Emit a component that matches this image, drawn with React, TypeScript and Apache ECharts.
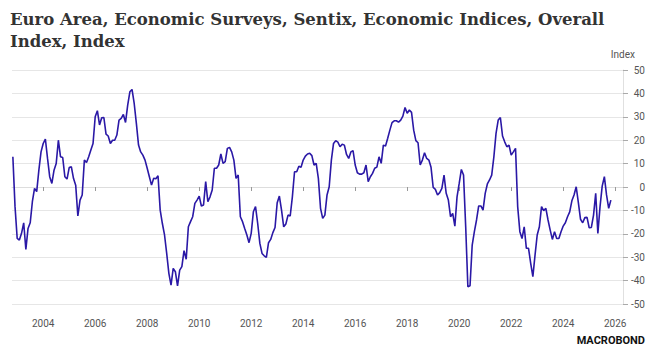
import React, { useEffect, useRef } from "react";
import * as echarts from "echarts";

// Monthly values, Oct 2002 – Oct 2025
const values2002to2007 = [12.9, -8.4, -22, -22.7, -19.8, -15.3, -26.7, -17.7, -15.3, -6.3, -0.6, -2, 7.2, 15, 18.6, 20.5, 12.2, 4.4, 1.5, 7.2, 10, 20, 12.9, 12.6, 4.4, 3.4, 8.3, 8.6, 3.6, 0.8, -12.4, -5.6, -3.4, 11.5, 10.5, 12.9, 15.8, 18.6, 30, 32.6, 26.5, 29.6, 29.7, 22.6, 21.8, 18.6, 20, 20, 22.2, 28.6, 29.3, 31, 27.6, 35, 40.7, 41.7];
const values2007to2012 = [35.7, 27.2, 17.9, 15, 13.6, 11.5, 8, 4.4, 0.8, 3.7, 3.5, 4.8, -9.9, -15.6, -20.5, -28.4, -36.9, -41.9, -34.8, -36.2, -42.3, -35.5, -34, -27.2, -30.9, -17, -14.8, -12.7, -7, -5.6, -3.9, -8.1, -7.7, 2.3, -6.3, -4.2, -1.3, 8, 8, 9.4, 14.1, 10.1, 10.8, 16.5, 16.9, 15, 11.5, 3.7, 5.1, -12.7, -14.8, -17.7, -20.5, -23.8, -19.8, -10.6];
const values2012to2016 = [-8.4, -15.6, -24.1, -28.4, -29.4, -30.1, -23.8, -22.4, -19.5, -17.3, -6.7, -3.9, -9.9, -17, -15.8, -12, -12.4, -4.2, 6.5, 6.5, 8.9, 8.4, 11.5, 13.2, 14.1, 14.4, 13.4, 9.4, 10.1, 3.7, -9.1, -13.4, -12, -3.4, 0.1, 11.5, 18.6, 19.8, 19.2, 17.2, 18.3, 17.9, 13.9, 12.2, 15, 15.5, 9.4, 6.1, 5.5, 5.5, 6.1, 9.4, 2.3, 4.4, 5.8, 8];
const values2016to2021 = [8.5, 12.9, 10.1, 17.9, 17.5, 20.8, 24.3, 27.5, 28.3, 28.3, 27.7, 28.6, 30.3, 34, 31.5, 32.9, 31.9, 24.3, 19.8, 18.9, 9.4, 11.5, 14.6, 12.2, 11.5, 8.4, -0.2, -1, -3.4, -2.4, -0.6, 5.1, -2.7, -5.6, -12.7, -11.3, -16.7, -4.2, 1.5, 7.5, 5.1, -17, -42.6, -42.2, -24.8, -19.1, -14.1, -8.1, -8.1, -9.9, -2.7, 1.3, 3, 5.1, 12.9, 22.9];
const values2021to2025 = [28.6, 29.7, 21.8, 19.3, 17.2, 17.9, 13.6, 15, 16.5, -8.5, -19.1, -22, -17, -26.2, -26.2, -32.6, -38.3, -29.1, -20.5, -17, -8.4, -10.1, -9.1, -14.1, -18.4, -22.4, -19.1, -22, -22, -19.1, -16.7, -15.3, -12.7, -10.6, -5.9, -3.4, 0.1, -6.7, -13.8, -15.3, -13.1, -13, -17.4, -17.3, -12, -2.7, -19.8, -8.4, 0.4, 4.4, -3.4, -9.1, -5.6];

const startYear = 2002;
const startMonth = 10; // October (plotted at month end)
const xTickYears = [2004, 2006, 2008, 2010, 2012, 2014, 2016, 2018, 2020, 2022, 2024, 2026];

const titleText = "Euro Area, Economic Surveys, Sentix, Economic Indices, Overall\nIndex, Index";

export default function App() {
  const ref = useRef<HTMLDivElement>(null);
  useEffect(() => {
    if (!ref.current) return;
    const chart = echarts.init(ref.current, undefined, { renderer: "svg" });
    const all = [
      ...values2002to2007,
      ...values2007to2012,
      ...values2012to2016,
      ...values2016to2021,
      ...values2021to2025,
    ];
    const data = all.map((v, i) => [startYear + (startMonth + i) / 12, v]);
    chart.setOption({
      animation: false,
      backgroundColor: "#ffffff",
      title: {
        text: titleText,
        left: 5,
        top: 3,
        textStyle: {
          fontFamily: "DejaVu Serif",
          fontWeight: "bold",
          fontSize: 16.5,
          lineHeight: 22,
          color: "#333333",
        },
      },
      grid: { left: 12, right: 29, top: 70, bottom: 49 },
      xAxis: {
        type: "value",
        min: 2002.8,
        max: 2026.3,
        offset: 6,
        splitLine: { show: false },
        axisLine: { show: true, lineStyle: { color: "#dddddd", width: 1 } },
        axisTick: { show: true, customValues: xTickYears, length: 4, lineStyle: { color: "#999999" } },
        axisLabel: {
          customValues: xTickYears,
          formatter: (v: number) => String(Math.round(v)),
          color: "#555555",
          fontSize: 10,
          fontFamily: "Roboto",
          margin: 8,
        },
      },
      yAxis: {
        type: "value",
        position: "right",
        min: -50,
        max: 50,
        interval: 10,
        splitLine: { show: true, lineStyle: { color: "#e6e6e6", width: 1 } },
        axisLine: { show: true, lineStyle: { color: "#e0e0e0" } },
        axisTick: { show: true, length: 5, lineStyle: { color: "#aaaaaa" } },
        axisLabel: {
          align: "right",
          margin: 22,
          color: "#555555",
          fontSize: 10,
          fontFamily: "Roboto",
        },
      },
      graphic: [
        {
          type: "text",
          right: 17,
          top: 49,
          style: { text: "Index", fill: "#555555", font: "10px Roboto" },
        },
        {
          type: "text",
          right: 7,
          top: 335,
          style: { text: "MACROBOND", fill: "#111111", font: "bold 11px Roboto" },
        },
      ],
      series: [
        {
          type: "line",
          data,
          showSymbol: false,
          symbol: "none",
          lineStyle: { color: "#2a18a6", width: 1.6 },
        },
      ],
    });
    return () => chart.dispose();
  }, []);
  return (
    <div
      ref={ref}
      style={{ position: "fixed", left: 0, top: 0, width: 652, height: 353 }}
    />
  );
}
